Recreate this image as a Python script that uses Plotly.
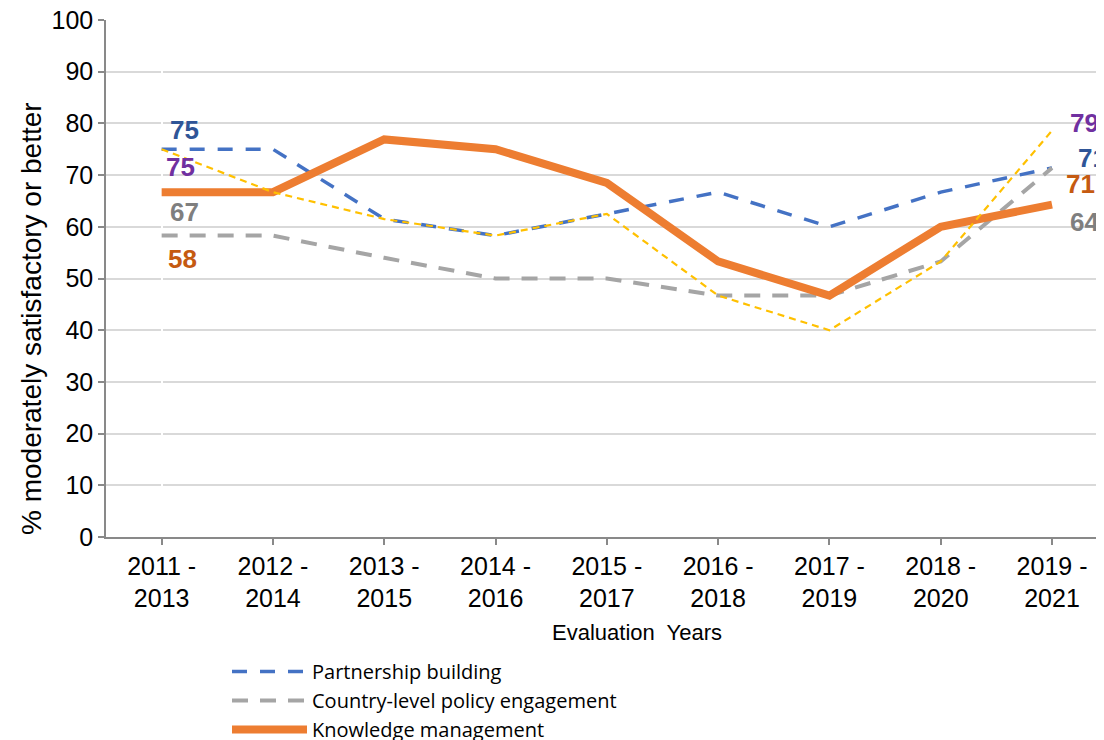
import plotly.graph_objects as go

categories = ["2011 -<br>2013", "2012 -<br>2014", "2013 -<br>2015", "2014 -<br>2016", "2015 -<br>2017",
              "2016 -<br>2018", "2017 -<br>2019", "2018 -<br>2020", "2019 -<br>2021"]
partnership = [75, 75, 61.5, 58.3, 62.5, 66.7, 60.0, 66.7, 71.4]
policy = [58.3, 58.3, 54.0, 50.0, 50.0, 46.7, 46.7, 53.3, 71.4]
knowledge = [66.7, 66.7, 76.9, 75.0, 68.5, 53.3, 46.7, 60.0, 64.3]
fourth = [75.0, 66.7, 61.5, 58.3, 62.5, 46.7, 40.0, 53.3, 78.6]

# data labels: text, category index, value labelled, colour, x / y offsets in px
label_text = ["75", "75", "67", "58", "79", "71", "71", "64"]
label_cat = [0, 0, 0, 0, 8, 8, 8, 8]
label_val = [75.0, 75.0, 66.7, 58.3, 78.6, 71.4, 71.4, 64.3]
label_col = ["#2F5597", "#7030A0", "#7F7F7F", "#C55A11", "#7030A0", "#2F5597", "#C55A11", "#7F7F7F"]
label_dx = [23, 19, 23, 21, 32, 40, 28, 32]
label_dy = [19, -18, -20, -23, 8, 10, -16, -17]

OFF = 8  # page body margin offset

x = list(range(len(categories)))
fig = go.Figure()
fig.add_trace(go.Scatter(x=x, y=partnership, mode="lines", name="Partnership building", legendgroup="a",
                         line=dict(color="#4472C4", width=3.5, dash="15px,13px")))
fig.add_trace(go.Scatter(x=x, y=policy, mode="lines", name="Country-level policy engagement", legendgroup="b",
                         line=dict(color="#A5A5A5", width=4, dash="16px,12px")))
fig.add_trace(go.Scatter(x=x, y=knowledge, mode="lines", name="Knowledge management", legendgroup="c",
                         line=dict(color="#ED7D31", width=8)))
fig.add_trace(go.Scatter(x=x, y=fourth, mode="lines", name="", showlegend=False,
                         line=dict(color="#FFC000", width=2.2, dash="7px,5px")))

for t, c, v, col, dx, dy in zip(label_text, label_cat, label_val, label_col, label_dx, label_dy):
    fig.add_annotation(x=c, y=v, text=f"<b>{t}</b>", showarrow=False, xshift=dx, yshift=dy,
                       font=dict(family="Liberation Sans, Arial", size=26, color=col))

# axis titles
fig.add_annotation(text="% moderately satisfactory or better", textangle=-90, showarrow=False,
                   xref="paper", x=(31 - 106) / 998, xanchor="center",
                   yref="paper", y=(537 - 319) / 517, yanchor="middle",
                   font=dict(family="Liberation Sans, Arial", size=28, color="#000000"))
fig.add_annotation(text="Evaluation  Years", showarrow=False,
                   xref="paper", x=(637 - 106) / 998, xanchor="center",
                   yref="paper", y=-(632 - 537) / 517, yanchor="middle",
                   font=dict(family="Liberation Sans, Arial", size=22, color="#000000"))

fig.update_layout(
    width=1104, height=740,
    margin=dict(l=106 - OFF, r=OFF, t=20 - OFF, b=740 - (537 - OFF), autoexpand=False),
    paper_bgcolor="white", plot_bgcolor="white",
    showlegend=True,
    legend=dict(x=(227 - 106) / 998, xanchor="left", y=1 - (652 - OFF) / 740, yref="container", yanchor="top",
                font=dict(family="Open Sans, Lato", size=20, color="#000000"),
                bgcolor="rgba(0,0,0,0)", tracegroupgap=0, itemwidth=75),
)
fig.update_xaxes(range=[-0.5, 8.467], tickmode="array", tickvals=x, ticktext=categories, automargin=False,
                 tickfont=dict(family="Liberation Sans, Arial", size=25, color="#000000"),
                 showgrid=False, showline=True, linecolor="#898989", linewidth=1.5,
                 ticks="outside", tickson="boundaries", ticklen=6, tickcolor="#898989", tickwidth=1.5,
                 ticklabeloverflow="allow")
fig.update_yaxes(range=[0, 100], dtick=10, automargin=False,
                 tickfont=dict(family="Liberation Sans, Arial", size=25, color="#000000"),
                 showgrid=True, gridcolor="#D9D9D9", gridwidth=1.5,
                 showline=True, linecolor="#898989", linewidth=1.5,
                 ticks="outside", ticklen=6, tickcolor="#898989", tickwidth=1.5,
                 ticklabeloverflow="allow", zeroline=False)

fig.write_html("out.html")
